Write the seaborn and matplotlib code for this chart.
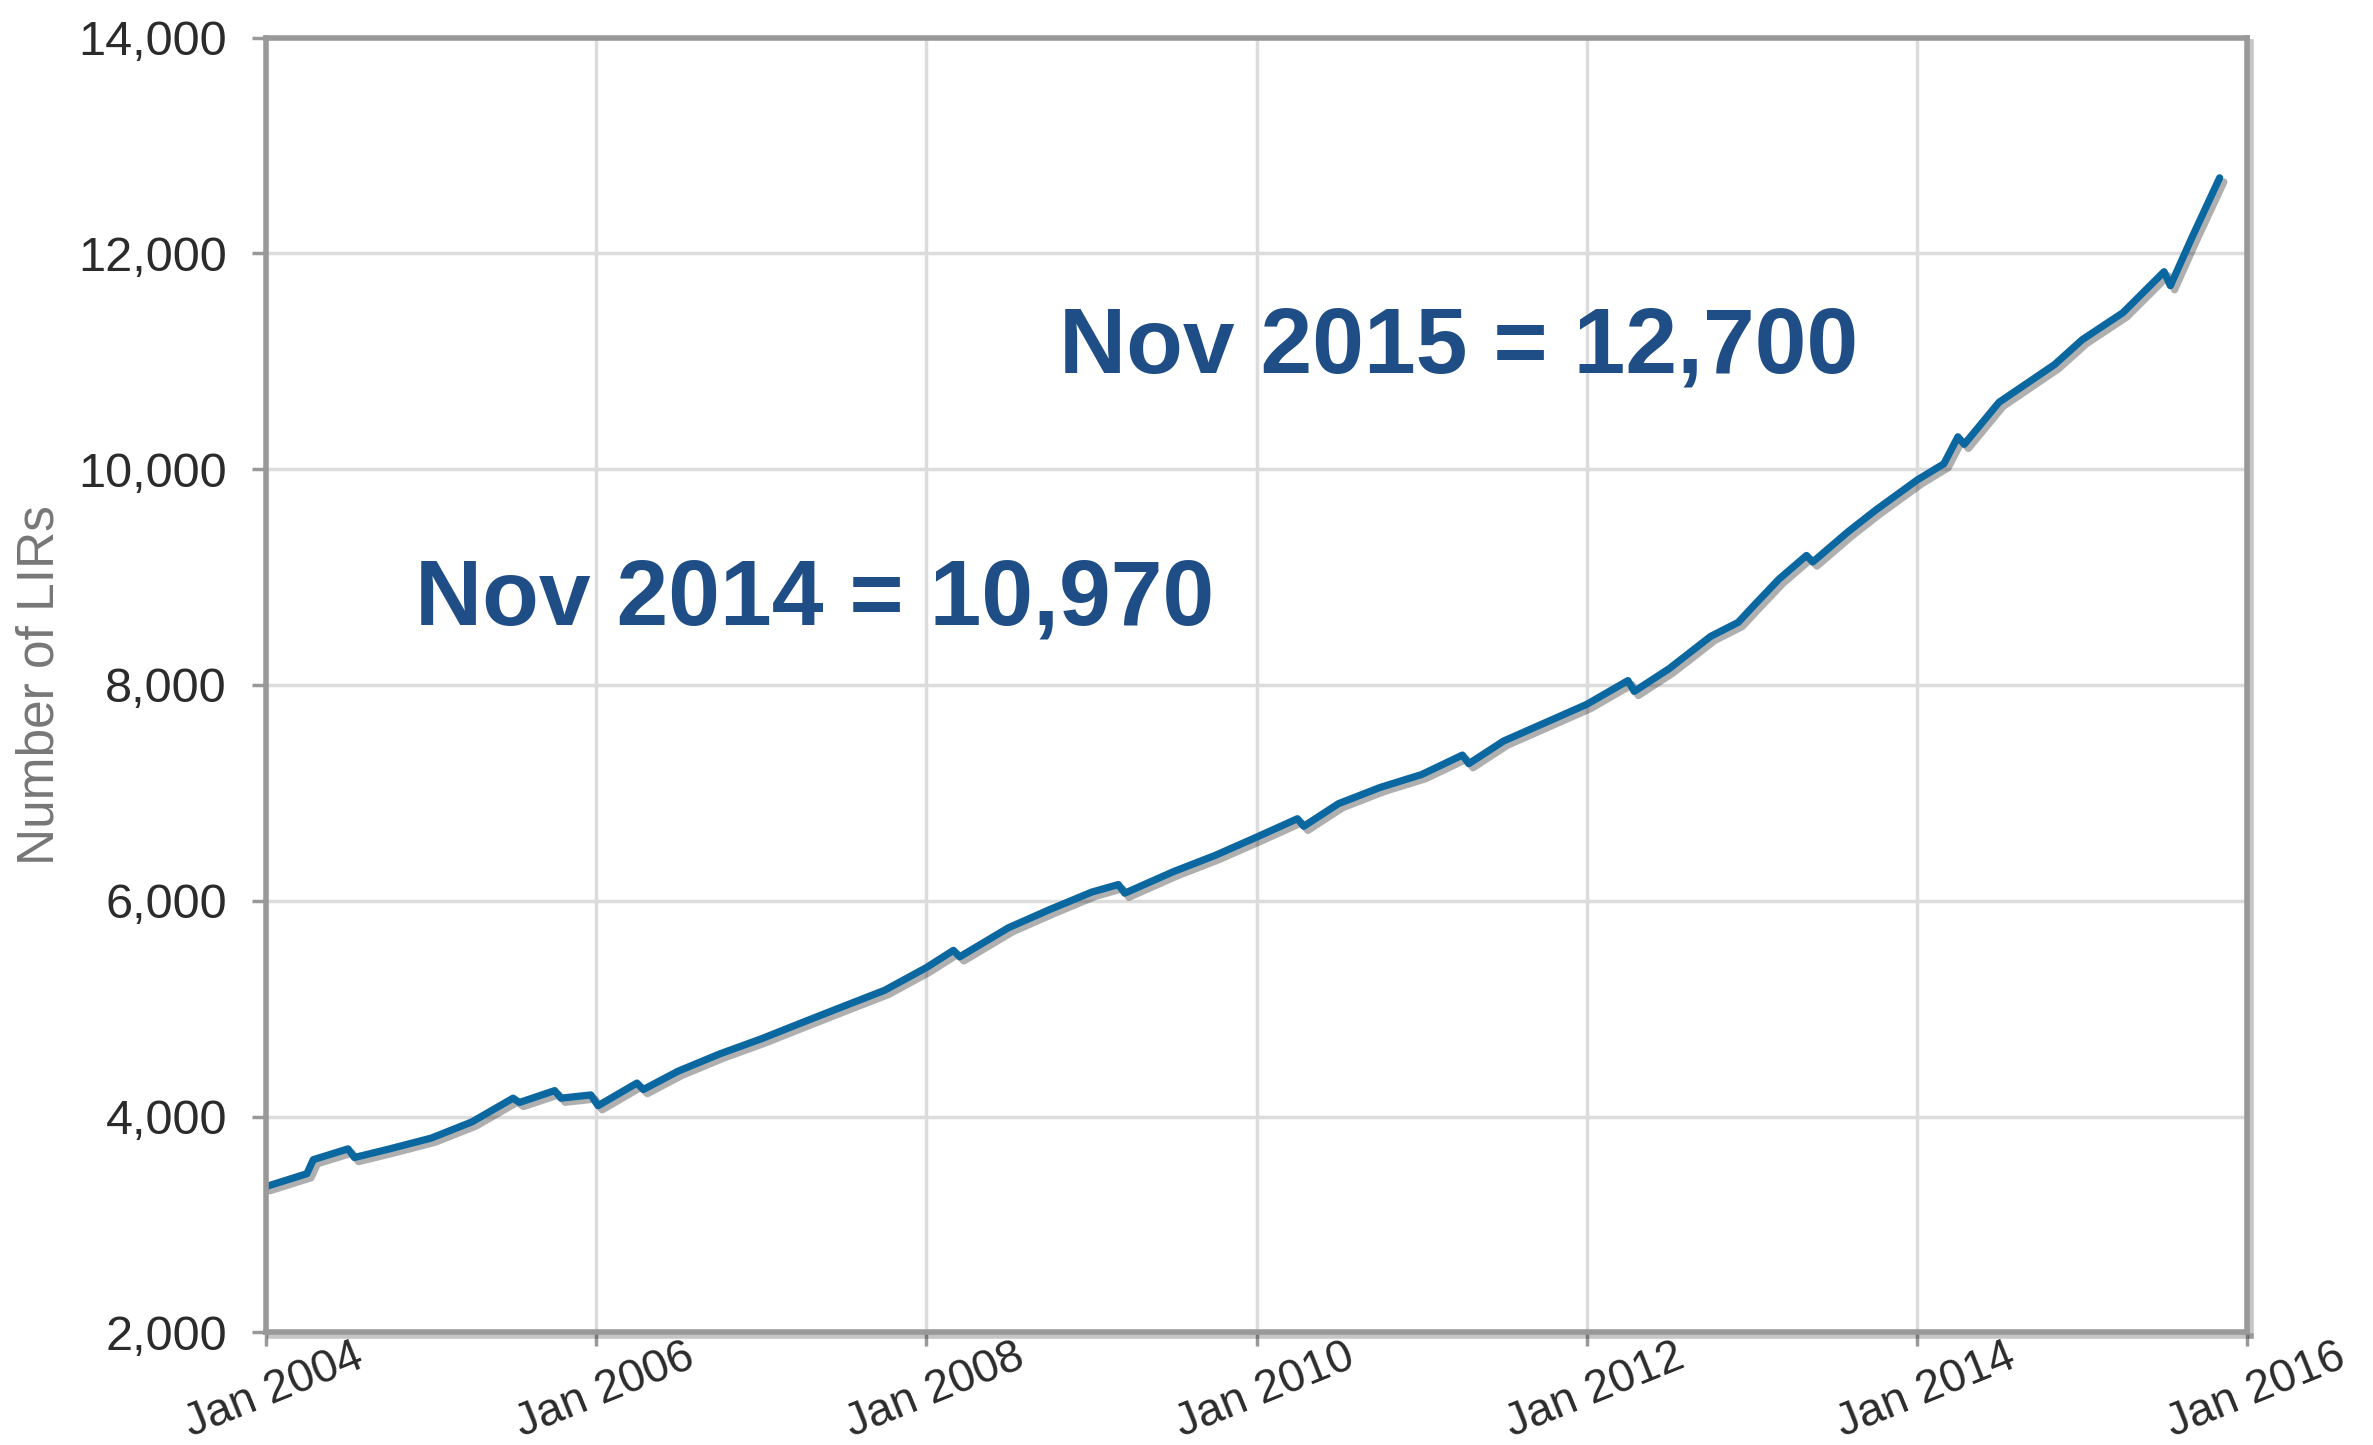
import numpy as np
import pandas as pd
import seaborn as sns
from matplotlib import pyplot as plt
import matplotlib.dates as mdates
import matplotlib.patheffects as pe
import matplotlib.ticker as mticker
from matplotlib.transforms import ScaledTranslation

# monthly-ish readings of the LIR count (dips kept as separate points)
dates = ['2004-01-01', '2004-04-01', '2004-04-15', '2004-07-01', '2004-07-15',
         '2004-10-01', '2005-01-01', '2005-04-01', '2005-07-01', '2005-07-15',
         '2005-10-01', '2005-10-15', '2005-12-20', '2006-01-05', '2006-04-01',
         '2006-04-15', '2006-07-01', '2006-10-01', '2007-01-01', '2007-04-01',
         '2007-07-01', '2007-10-01', '2008-01-01', '2008-03-01', '2008-03-15',
         '2008-07-01', '2008-10-01', '2009-01-01', '2009-03-01', '2009-03-15',
         '2009-07-01', '2009-10-01', '2010-01-01', '2010-04-01', '2010-04-15',
         '2010-07-01', '2010-10-01', '2011-01-01', '2011-04-01', '2011-04-15',
         '2011-07-01', '2011-10-01', '2012-01-01', '2012-04-01', '2012-04-15',
         '2012-07-01', '2012-10-01', '2012-12-01', '2013-01-01', '2013-03-01',
         '2013-05-01', '2013-05-15', '2013-08-01', '2013-10-01', '2014-01-01',
         '2014-03-01', '2014-04-01', '2014-04-15', '2014-07-01', '2014-11-01',
         '2015-01-01', '2015-04-01', '2015-07-01', '2015-07-15', '2015-09-01',
         '2015-11-01']
lirs = [3350, 3470, 3600, 3700, 3620,
        3700, 3800, 3950, 4170, 4130,
        4240, 4170, 4200, 4100, 4310,
        4250, 4420, 4580, 4720, 4870,
        5020, 5170, 5380, 5540, 5480,
        5750, 5920, 6080, 6150, 6070,
        6270, 6420, 6590, 6760, 6690,
        6900, 7050, 7170, 7350, 7270,
        7480, 7650, 7820, 8040, 7940,
        8150, 8450, 8580, 8720, 8980,
        9200, 9140, 9420, 9620, 9900,
        10050, 10300, 10230, 10620, 10970,
        11200, 11450, 11830, 11700, 12150,
        12700]

year_ticks = ['2004-01-01', '2006-01-01', '2008-01-01', '2010-01-01',
              '2012-01-01', '2014-01-01', '2016-01-01']
notes = ['Nov 2014 = 10,970', 'Nov 2015 = 12,700']


def plot_lirs():
    df = pd.DataFrame({'date': pd.to_datetime(dates), 'lirs': lirs})

    sns.set_theme(style="whitegrid")
    plt.rcParams['font.family'] = ['Liberation Sans', 'DejaVu Sans']

    fig = plt.figure(figsize=(23.73, 14.45), dpi=100)
    ax = fig.add_axes([0.112, 0.078, 0.835, 0.896])

    sns.lineplot(data=df, x='date', y='lirs', ax=ax, color='#0a67a0',
                 linewidth=5.2,
                 path_effects=[pe.SimpleLineShadow(offset=(3, -3), alpha=0.35),
                               pe.Normal()])

    # axis ranges and ticks
    ax.set_xlim(pd.Timestamp(year_ticks[0]), pd.Timestamp(year_ticks[-1]))
    ax.set_ylim(2000, 14000)
    ax.set_yticks(range(2000, 14001, 2000))
    ax.yaxis.set_major_formatter(mticker.StrMethodFormatter('{x:,.0f}'))
    ax.set_xticks(pd.to_datetime(year_ticks))
    ax.xaxis.set_major_formatter(mdates.DateFormatter('%b %Y'))

    ax.tick_params(axis='both', labelsize=35, labelcolor='#2b2b2b',
                   color='#999999', width=2.5, length=10, direction='out',
                   left=True, bottom=True)
    ax.tick_params(axis='x', labelsize=33, pad=32)
    ax.tick_params(axis='y', pad=18)
    shift = ScaledTranslation(6 / 72, 0, fig.dpi_scale_trans)
    for lab in ax.get_xticklabels():
        lab.set_rotation(22)
        lab.set_rotation_mode('anchor')
        lab.set_ha('center')
        lab.set_va('center')
        lab.set_transform(lab.get_transform() + shift)

    ax.grid(True, color='#dcdcdc', linewidth=2.5)
    for s in ax.spines.values():
        s.set_color('#999999')
        s.set_linewidth(4)
    for side in ['bottom', 'right']:
        ax.spines[side].set_path_effects(
            [pe.SimpleLineShadow(offset=(3, -3), alpha=0.25), pe.Normal()])

    ax.set_xlabel('')
    ax.set_ylabel('Number of LIRs', fontsize=37, color='#777777', labelpad=10)

    # annotations
    ax.text(pd.Timestamp('2004-11-25'), 8785, notes[0], fontsize=67,
            fontweight='bold', color='#1f4e87', va='center', ha='left')
    ax.text(pd.Timestamp('2008-10-20'), 11120, notes[1], fontsize=67,
            fontweight='bold', color='#1f4e87', va='center', ha='left')

    fig.savefig('out.png', dpi=100)


if __name__ == "__main__":
    plot_lirs()
